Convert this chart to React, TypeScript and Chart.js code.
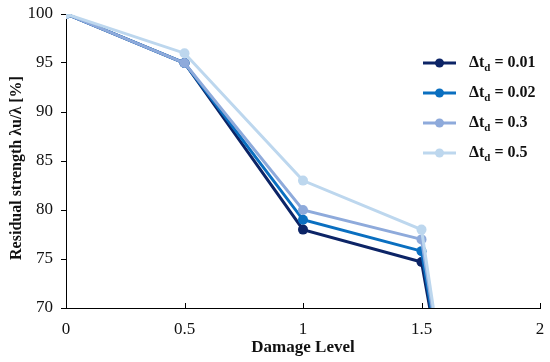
import React, { useEffect, useRef } from "react";
import { Chart, registerables } from "chart.js";

Chart.register(...registerables);

const xTicks = [0, 0.5, 1, 1.5, 2];
const yTicks = [70, 75, 80, 85, 90, 95, 100];

const seriesLabels = ["0.01", "0.02", "0.3", "0.5"];
const seriesColors = ["#0c2466", "#0a6fc0", "#8eaadb", "#bdd7ee"];

const x001 = [0, 0.5, 1, 1.5, 1.535];
const y001 = [100, 95, 78, 74.7, 70];
const x002 = [0, 0.5, 1, 1.5, 1.54];
const y002 = [100, 95, 79, 75.8, 70];
const x03 = [0, 0.5, 1, 1.5, 1.545];
const y03 = [100, 95, 80, 77, 70];
const x05 = [0, 0.5, 1, 1.5, 1.55];
const y05 = [100, 96, 83, 78, 70];

const seriesX = [x001, x002, x03, x05];
const seriesY = [y001, y002, y03, y05];

const FONT = "'Liberation Serif', 'Times New Roman', serif";

export default function App() {
  const ref = useRef<HTMLCanvasElement | null>(null);

  useEffect(() => {
    document.body.style.margin = "0";
    const canvas = ref.current;
    if (!canvas) return;

    const overlay = {
      id: "overlay",
      afterDraw(chart: any) {
        const ctx = chart.ctx;
        const xs = chart.scales.x;
        const area = chart.chartArea;
        ctx.save();
        // inward x ticks
        ctx.strokeStyle = "#000";
        ctx.lineWidth = 1;
        xTicks.forEach((v) => {
          if (v === 0) return;
          const px = Math.round(xs.getPixelForValue(v)) + 0.5;
          ctx.beginPath();
          ctx.moveTo(px, area.bottom);
          ctx.lineTo(px, area.bottom - 5);
          ctx.stroke();
        });
        // legend
        const lx0 = area.right - 117;
        const lx1 = area.right - 84;
        const mx = (lx0 + lx1) / 2;
        const tx = area.right - 71;
        seriesLabels.forEach((lab, i) => {
          const y = area.top + 49 + 30 * i;
          ctx.strokeStyle = seriesColors[i];
          ctx.lineWidth = 3;
          ctx.beginPath();
          ctx.moveTo(lx0, y);
          ctx.lineTo(lx1, y);
          ctx.stroke();
          ctx.fillStyle = seriesColors[i];
          ctx.beginPath();
          ctx.arc(mx, y, 4.5, 0, Math.PI * 2);
          ctx.fill();
          ctx.fillStyle = "#111";
          ctx.textBaseline = "middle";
          ctx.textAlign = "left";
          ctx.font = `bold 16px ${FONT}`;
          ctx.fillText("Δt", tx, y);
          const w = ctx.measureText("Δt").width;
          ctx.font = `bold 11px ${FONT}`;
          ctx.fillText("d", tx + w, y + 5);
          const w2 = ctx.measureText("d").width;
          ctx.font = `bold 16px ${FONT}`;
          ctx.fillText(" = " + lab, tx + w + w2, y);
        });
        // y title
        const title = "Residual strength λu/λ [%]";
        ctx.translate(17, 168);
        ctx.rotate(-Math.PI / 2);
        ctx.font = `bold 16px ${FONT}`;
        ctx.fillStyle = "#111";
        ctx.textAlign = "center";
        ctx.textBaseline = "middle";
        ctx.fillText(title, 0, 0);
        ctx.restore();
      },
    };

    const chart = new Chart(canvas, {
      type: "line",
      data: {
        datasets: seriesLabels.map((lab, i) => ({
          label: "Δtd = " + lab,
          data: seriesX[i].map((x, j) => ({ x, y: seriesY[i][j] })),
          borderColor: seriesColors[i],
          backgroundColor: seriesColors[i],
          borderWidth: 3,
          pointRadius: seriesX[i].map((_, j) => (j < 4 ? 5 : 0)),
          pointHoverRadius: 0,
          pointBorderWidth: 0,
          tension: 0,
          order: 3 - i,
        })),
      },
      options: {
        animation: false,
        responsive: false,
        layout: { padding: { top: 14, right: 10, left: 0, bottom: 0 } },
        plugins: {
          legend: { display: false },
          tooltip: { enabled: false },
        },
        scales: {
          x: {
            type: "linear",
            min: 0,
            max: 2,
            afterBuildTicks: (s: any) => {
              s.ticks = xTicks.map((v) => ({ value: v }));
            },
            afterFit: (s: any) => {
              s.height = 54;
              s.paddingLeft = 0;
              s.paddingRight = 0;
              s.paddingTop = 0;
              s.paddingBottom = 0;
            },
            grid: { display: false, drawTicks: false },
            border: { display: true, color: "#000", width: 1 },
            ticks: {
              padding: 11,
              color: "#111",
              font: { family: FONT, size: 17 },
              maxRotation: 0,
              callback: (v: any) => String(v),
            },
            title: {
              display: true,
              text: "Damage Level",
              color: "#111",
              font: { family: FONT, size: 17, weight: "bold" },
              padding: { top: 0, bottom: 4 },
            },
          },
          y: {
            min: 70,
            max: 100,
            afterBuildTicks: (s: any) => {
              s.ticks = yTicks.map((v) => ({ value: v }));
            },
            afterFit: (s: any) => {
              s.width = 66;
              s.paddingLeft = 0;
              s.paddingRight = 0;
              s.paddingTop = 0;
              s.paddingBottom = 0;
            },
            grid: {
              drawOnChartArea: false,
              drawTicks: true,
              tickLength: 5,
              color: "#000",
            },
            border: { display: true, color: "#000", width: 1 },
            ticks: {
              padding: 8,
              color: "#111",
              font: { family: FONT, size: 17 },
              callback: (v: any) => String(v),
            },
          },
        },
      },
      plugins: [overlay],
    } as any);

    return () => chart.destroy();
  }, []);

  return (
    <div style={{ width: 550, height: 362 }}>
      <canvas ref={ref} width={550} height={362} />
    </div>
  );
}
